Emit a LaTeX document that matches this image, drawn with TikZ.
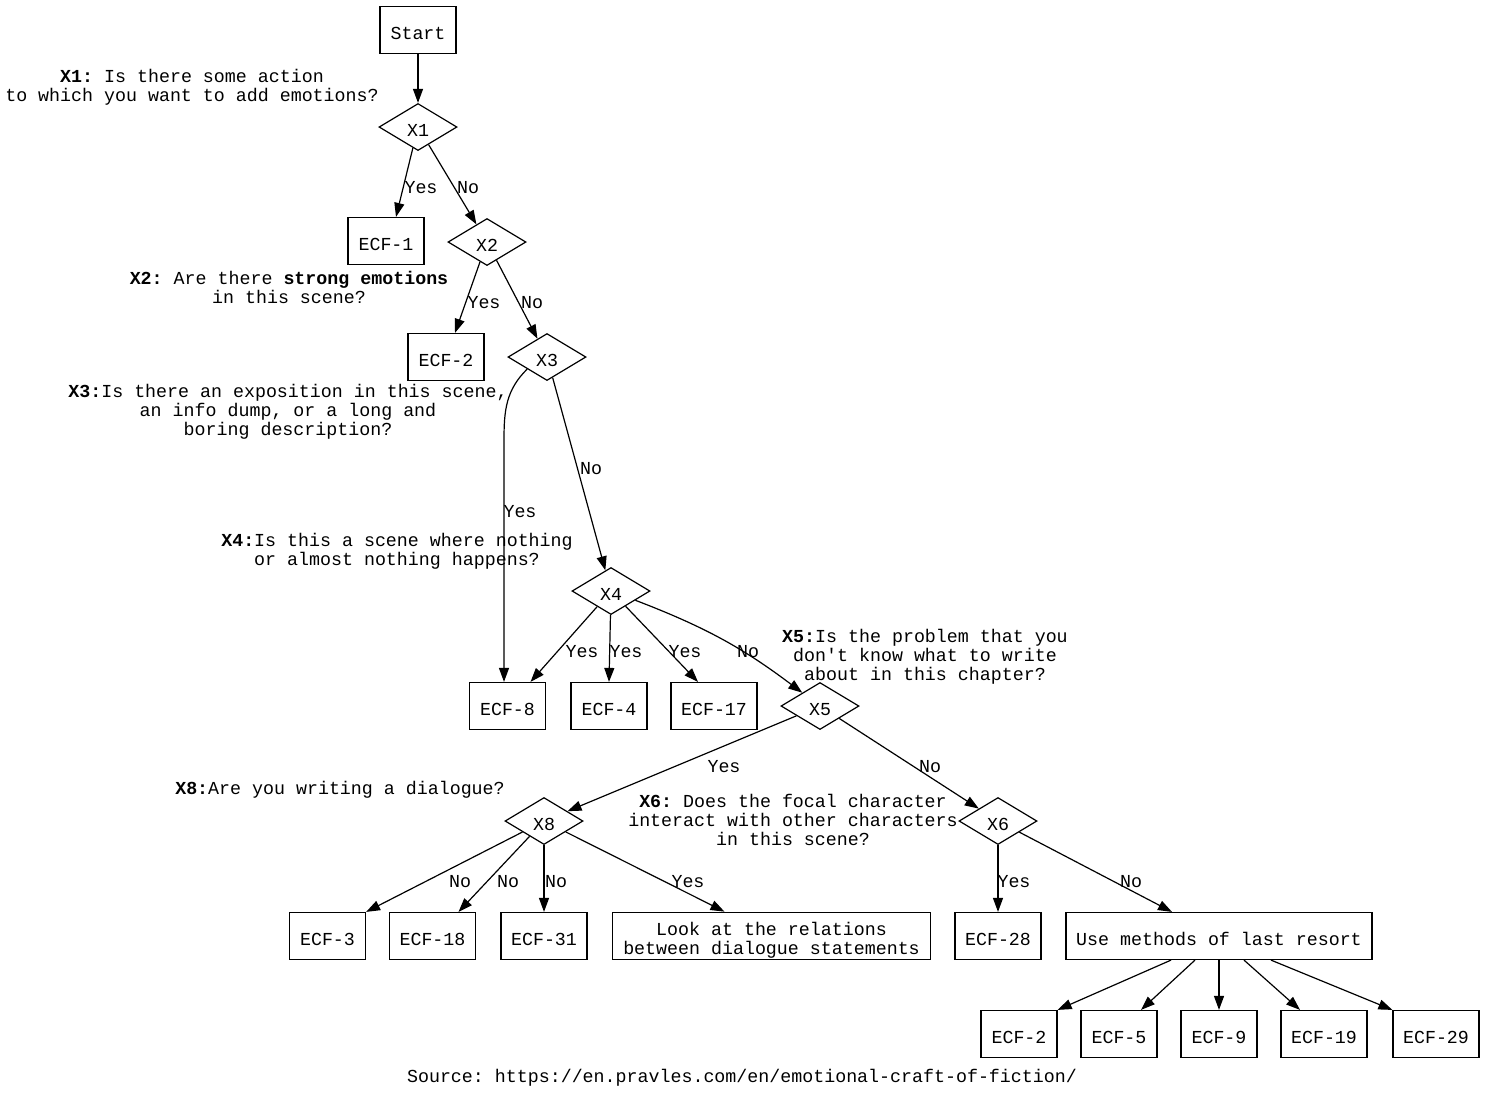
\documentclass[tikz,border=0pt]{standalone}
\usepackage{fontspec}
\setmonofont{Liberation Mono}
\usetikzlibrary{shapes.geometric,arrows.meta,calc}
\begin{document}
\begin{tikzpicture}[x=1pt,y=-1pt,
  every node/.style={font=\ttfamily\fontsize{18.3}{18.8}\selectfont},
  boxbase/.style={draw,line width=1.2pt,minimum height=47pt,inner sep=0pt},
  box/.style={boxbase,text height=18pt,text depth=0pt},
  dia/.style={draw,diamond,line width=1.2pt,minimum width=78pt,minimum height=47pt,inner sep=0pt,text height=18pt,text depth=0pt},
  arr/.style={line width=1.2pt,-{Triangle[length=14pt,width=10pt]}},
  lab/.style={inner sep=0pt,yshift=-2pt},
  q/.style={inner sep=0pt,align=center,yshift=-2pt}]
\useasboundingbox (0,0) rectangle (1486,1093);
% nodes
\node[box,minimum width=76pt] (start) at (418,30) {Start};
\node[dia] (X1) at (418,127) {X1};
\node[box,minimum width=76pt] (ECF1) at (386,241) {ECF-1};
\node[dia] (X2) at (487,242) {X2};
\node[box,minimum width=76pt] (ECF2) at (446,357) {ECF-2};
\node[dia] (X3) at (547,357) {X3};
\node[dia] (X4) at (611,591) {X4};
\node[box,minimum width=76pt] (ECF8) at (507.5,706) {ECF-8};
\node[box,minimum width=76pt] (ECF4) at (609,706) {ECF-4};
\node[box,minimum width=86pt] (ECF17) at (714,706) {ECF-17};
\node[dia] (X5) at (820,706) {X5};
\node[dia] (X8) at (544,821) {X8};
\node[dia] (X6) at (998,821) {X6};
\node[box,minimum width=76pt] (ECF3) at (327.5,936) {ECF-3};
\node[box,minimum width=86pt] (ECF18) at (432.5,936) {ECF-18};
\node[box,minimum width=86pt] (ECF31) at (544,936) {ECF-31};
\node[boxbase,minimum width=318pt] (look) at (771.5,936) {\begin{tabular}{@{}c@{}}\rule{0pt}{23pt}Look at the relations\\between dialogue statements\end{tabular}};
\node[box,minimum width=86pt] (ECF28) at (998,936) {ECF-28};
\node[box,minimum width=306pt] (use) at (1219,936) {Use methods of last resort};
\node[box,minimum width=76pt] (ECF2b) at (1019,1034) {ECF-2};
\node[box,minimum width=76pt] (ECF5) at (1119,1034) {ECF-5};
\node[box,minimum width=76pt] (ECF9) at (1219,1034) {ECF-9};
\node[box,minimum width=86pt] (ECF19) at (1324,1034) {ECF-19};
\node[box,minimum width=86pt] (ECF29) at (1436,1034) {ECF-29};
% question labels
\node[q] (q1) at (192,85) {\textbf{X1:} Is there some action\\to which you want to add emotions?};
\node[q] (q2) at (289,285.5) {\textbf{X2:} Are there \textbf{strong emotions}\\in this scene?};
\node[q] (q3) at (288,410) {\textbf{X3:}Is there an exposition in this scene,\\an info dump, or a long and\\boring description?};
\node[q] (q4) at (397,549) {\textbf{X4:}Is this a scene where nothing\\or almost nothing happens?};
\node[q] (q5) at (925,655) {\textbf{X5:}Is the problem that you\\don't know what to write\\about in this chapter?};
\node[q] (q8) at (340,788) {\textbf{X8:}Are you writing a dialogue?};
\node[q] (q6) at (793,818) {\textbf{X6:} Does the focal character\\interact with other characters\\in this scene?};
\node[q] (src) at (742,1076) {Source: https://en.pravles.com/en/emotional-craft-of-fiction/};
% edges
\draw[arr] (start) -- (X1);
\draw[arr] (X1) -- ([xshift=10pt]ECF1.north);
\draw[arr] (X1) -- (X2);
\draw[arr] (X2) -- ([xshift=9pt]ECF2.north);
\draw[arr] (X2) -- (X3);
\draw[arr] ($(X3.west)!0.5!(X3.south)$) .. controls (506,390) and (504,410) .. (504,440) -- ([xshift=-3.5pt]ECF8.north);
\draw[arr] (X3) -- (X4);
\draw[arr] (X4) -- ([xshift=23pt]ECF8.north);
\draw[arr] (X4) -- (ECF4.north);
\draw[arr] (X4) -- ([xshift=-16pt]ECF17.north);
\draw[arr] (X4) to[bend left=8] (X5);
\draw[arr] (X5) -- (X8);
\draw[arr] (X5) -- (X6);
\draw[arr] (X8) -- (ECF3.north east);
\draw[arr] (X8) -- ([xshift=26pt]ECF18.north);
\draw[arr] (X8) -- (ECF31.north);
\draw[arr] (X8) -- ([xshift=-47pt]look.north);
\draw[arr] (X6) -- (ECF28.north);
\draw[arr] (X6) -- ([xshift=-47pt]use.north);
\draw[arr] ([xshift=-48pt]use.south) -- (ECF2b.north east);
\draw[arr] ([xshift=-24pt]use.south) -- ([xshift=22pt]ECF5.north);
\draw[arr] (use.south) -- (ECF9.north);
\draw[arr] ([xshift=25pt]use.south) -- ([xshift=-24pt]ECF19.north);
\draw[arr] ([xshift=52pt]use.south) -- (ECF29.north west);
% edge labels
\node[lab] (l1) at (421,186) {Yes};
\node[lab] (l2) at (468,186) {No};
\node[lab] (l3) at (484,301) {Yes};
\node[lab] (l4) at (532,301) {No};
\node[lab] (l5) at (520,510) {Yes};
\node[lab] (l6) at (591,467) {No};
\node[lab] (l7) at (582,650) {Yes};
\node[lab] (l8) at (626,650) {Yes};
\node[lab] (l9) at (685,650) {Yes};
\node[lab] (l10) at (748,650) {No};
\node[lab] (l11) at (724,765) {Yes};
\node[lab] (l12) at (930,765) {No};
\node[lab] (l13) at (460,880) {No};
\node[lab] (l14) at (508,880) {No};
\node[lab] (l15) at (556,880) {No};
\node[lab] (l16) at (688,880) {Yes};
\node[lab] (l17) at (1014,880) {Yes};
\node[lab] (l18) at (1131,880) {No};
\end{tikzpicture}
\end{document}
